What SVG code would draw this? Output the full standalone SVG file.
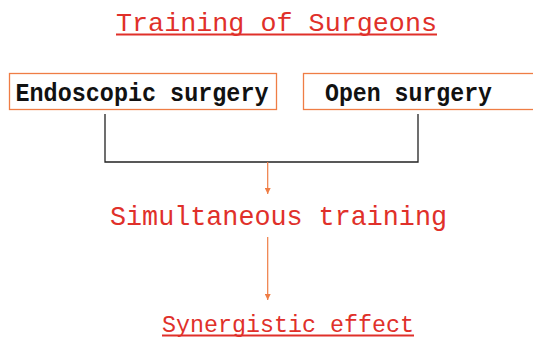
<svg xmlns="http://www.w3.org/2000/svg" width="533" height="341" viewBox="0 0 533 341">
<style>
.t{font-family:"Liberation Mono","DejaVu Sans Mono",monospace}
.red{fill:#e0302a}
.blk{fill:#111;font-weight:bold}
.box{fill:#fff;stroke:#ef7d45;stroke-width:1.3}
.ul{stroke:#e0302a;stroke-width:2}
.br{stroke:#222;stroke-width:1.3;fill:none}
.ar{stroke:#ef7d45;stroke-width:1.2;fill:none}
</style>
<defs>
<marker id="ah" viewBox="0 0 10 10" refX="10" refY="5" markerWidth="6" markerHeight="6" markerUnits="userSpaceOnUse" orient="auto">
<path d="M0,0 L10,5 L0,10 z" fill="#ef7d45"/>
</marker>
</defs>
<rect width="533" height="341" fill="#fff"/>
<g id="title">
<text class="t red" x="116" y="31" font-size="26" textLength="321" lengthAdjust="spacingAndGlyphs">Training of Surgeons</text>
<line class="ul" x1="116" y1="34.5" x2="437" y2="34.5"/>
</g>
<g id="endoscopic">
<rect class="box" x="9.5" y="73.5" width="267" height="36"/>
<text class="t blk" x="15.5" y="100.5" font-size="25" textLength="253" lengthAdjust="spacingAndGlyphs">Endoscopic surgery</text>
</g>
<g id="open">
<rect class="box" x="303.5" y="73.5" width="240" height="36"/>
<text class="t blk" x="325" y="100.5" font-size="25" textLength="167" lengthAdjust="spacingAndGlyphs">Open surgery</text>
</g>
<g id="simultaneous">
<text class="t red" x="110" y="225" font-size="28" textLength="337" lengthAdjust="spacingAndGlyphs">Simultaneous training</text>
</g>
<g id="synergistic">
<text class="t red" x="162" y="331.5" font-size="23.5" textLength="252" lengthAdjust="spacingAndGlyphs">Synergistic effect</text>
<line class="ul" x1="162" y1="335.5" x2="414" y2="335.5"/>
</g>
<g id="connectors">
<path class="br" d="M105,114 V162 H418 V114"/>
<line class="ar" x1="267.7" y1="162" x2="267.7" y2="194" marker-end="url(#ah)"/>
<line class="ar" x1="267.7" y1="237" x2="267.7" y2="300" marker-end="url(#ah)"/>
</g>
</svg>
